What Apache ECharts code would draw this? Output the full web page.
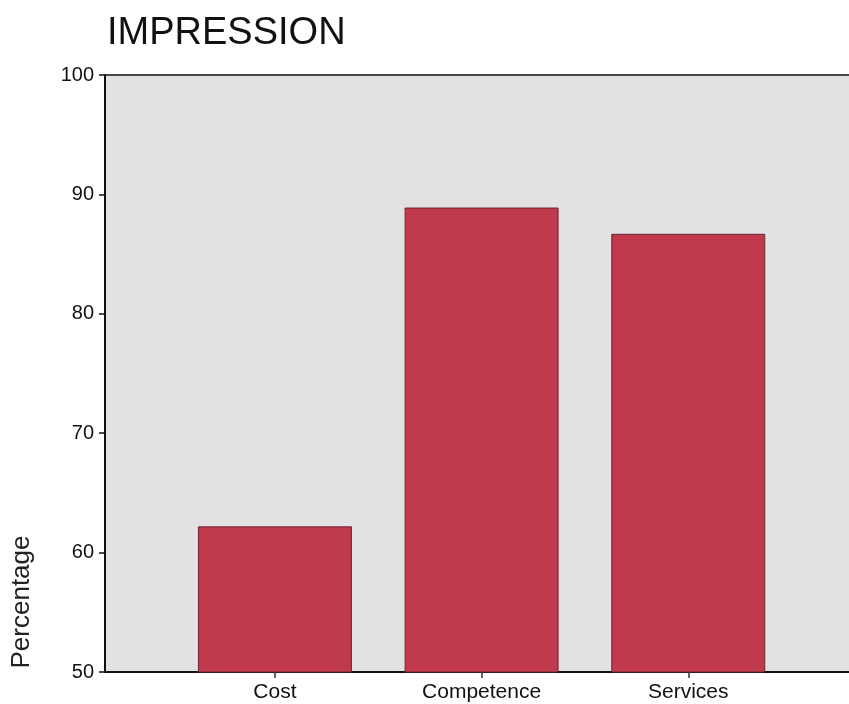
<!DOCTYPE html>
<html>
<head>
<meta charset="utf-8">
<style>
  html, body { margin: 0; padding: 0; background: #ffffff; }
  #chart { width: 849px; height: 704px; }
</style>
<script src="https://cdn.jsdelivr.net/npm/echarts@6/dist/echarts.min.js"></script>
</head>
<body>
<div id="chart"></div>
<script>
// Impression ratings by aspect, in percent
const categories = ['Cost', 'Competence', 'Services'];
const percentages = [62.2, 88.9, 86.7];
const yTicks = { min: 50, max: 100, step: 10 };

const FONT = '"Liberation Sans", Arial, Helvetica, sans-serif';
const chart = echarts.init(document.getElementById('chart'), null, { renderer: 'canvas' });

chart.setOption({
  animation: false,
  backgroundColor: '#ffffff',
  title: {
    text: 'IMPRESSION',
    left: 102,
    top: 10,
    textStyle: { fontFamily: FONT, fontSize: 38, fontWeight: 'normal', color: '#111111' }
  },
  graphic: [{
    type: 'text',
    x: 22,
    y: 602,
    rotation: Math.PI / 2,
    style: {
      text: 'Percentage',
      font: '26px ' + FONT,
      fill: '#222222',
      align: 'center',
      verticalAlign: 'middle'
    }
  }],
  grid: [
    // plot frame with the percentage scale
    { left: 105, top: 75, right: -20, bottom: 32, show: true, backgroundColor: '#e2e2e4', borderWidth: 0 },
    // band holding the three bars
    { left: 171.6, top: 75, width: 620, bottom: 32 }
  ],
  xAxis: [
    { gridIndex: 0, type: 'value', position: 'bottom', min: 0, max: 1,
      axisLine: { show: true, lineStyle: { color: '#111111', width: 2 } },
      axisTick: { show: false }, axisLabel: { show: false }, splitLine: { show: false } },
    { gridIndex: 0, type: 'value', position: 'top', min: 0, max: 1,
      axisLine: { show: true, lineStyle: { color: '#111111', width: 1.5 } },
      axisTick: { show: false }, axisLabel: { show: false }, splitLine: { show: false } },
    { gridIndex: 1, type: 'category', data: categories, position: 'bottom',
      axisLine: { show: false },
      axisTick: { show: true, alignWithLabel: true, length: 6, lineStyle: { color: '#333333', width: 1.5 } },
      axisLabel: { show: true, margin: 10, fontFamily: FONT, fontSize: 21, color: '#111111' },
      splitLine: { show: false } }
  ],
  yAxis: [
    { gridIndex: 0, type: 'value', min: yTicks.min, max: yTicks.max, interval: yTicks.step,
      axisLine: { show: true, lineStyle: { color: '#111111', width: 2 } },
      axisTick: { show: true, inside: false, length: 6, lineStyle: { color: '#111111', width: 1.5 } },
      axisLabel: { show: true, margin: 11, fontFamily: FONT, fontSize: 20, color: '#111111' },
      splitLine: { show: false } },
    { gridIndex: 1, type: 'value', min: yTicks.min, max: yTicks.max, interval: yTicks.step, show: false }
  ],
  series: [{
    type: 'bar',
    xAxisIndex: 2,
    yAxisIndex: 1,
    data: percentages,
    barWidth: '74.5%',
    clip: true,
    itemStyle: { color: '#c0394c', borderColor: '#6a2430', borderWidth: 1 }
  }]
});
</script>
</body>
</html>
